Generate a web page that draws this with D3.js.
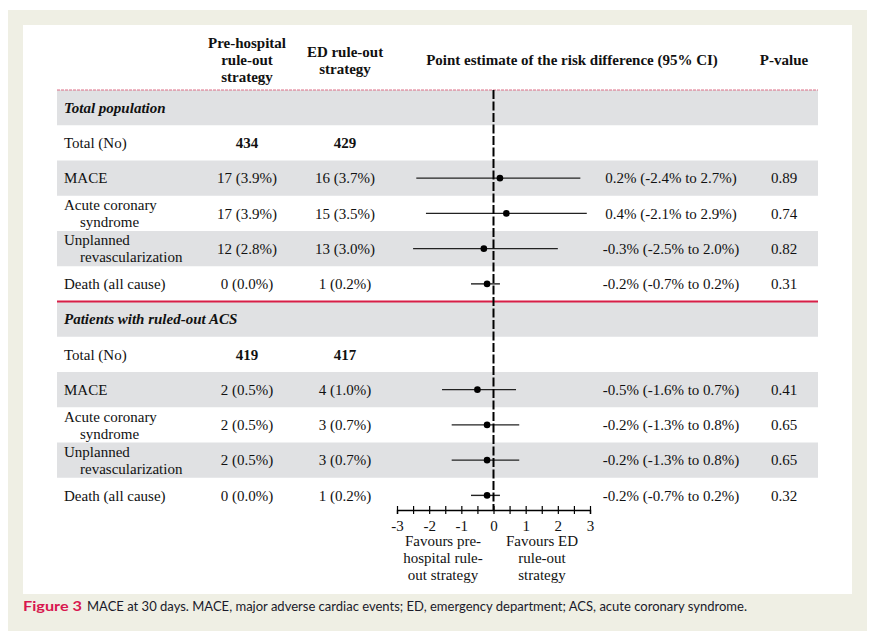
<html>
<head>
<meta charset="utf-8" />
<title>MACE at 30 days</title>
<script src="https://cdn.jsdelivr.net/npm/d3@7/dist/d3.min.js"></script>
<style>
  body { margin: 0; background: #fff; }
  svg { display: block; }
  .serif { font-family: "Liberation Serif", "Times New Roman", serif; font-size: 15px; fill: #111; }
  .hdr { font-weight: bold; }
  .sec { font-weight: bold; font-style: italic; }
</style>
</head>
<body>
<div id="viz"></div>
<script>
// ---- data ----
var sections = ["Total population", "Patients with ruled-out ACS"];
var totalPre = [434, 419];
var totalEd = [429, 417];
var outcomes = [["MACE"], ["Acute coronary", "syndrome"], ["Unplanned", "revascularization"], ["Death (all cause)"]];
var preEvents = [[17, 17, 12, 0], [2, 2, 2, 0]];
var prePct = [[3.9, 3.9, 2.8, 0.0], [0.5, 0.5, 0.5, 0.0]];
var edEvents = [[16, 15, 13, 1], [4, 3, 3, 1]];
var edPct = [[3.7, 3.5, 3.0, 0.2], [1.0, 0.7, 0.7, 0.2]];
var estimate = [[0.2, 0.4, -0.3, -0.2], [-0.5, -0.2, -0.2, -0.2]];
var ciLow = [[-2.4, -2.1, -2.5, -0.7], [-1.6, -1.3, -1.3, -0.7]];
var ciHigh = [[2.7, 2.9, 2.0, 0.2], [0.7, 0.8, 0.8, 0.2]];
var pValues = [["0.89", "0.74", "0.82", "0.31"], ["0.41", "0.65", "0.65", "0.32"]];
var axisTicks = [-3, -2.5, -2, -1.5, -1, -0.5, 0, 0.5, 1, 1.5, 2, 2.5, 3];

// build the table rows from the arrays
var rows = [];
sections.forEach(function(s, k) {
    rows.push({ id: "s" + k, type: "section", label: [s] });
    rows.push({ id: "t" + k, type: "total", label: ["Total (No)"], pre: totalPre[k], ed: totalEd[k] });
    outcomes.forEach(function(o, j) {
        rows.push({
            id: "o" + k + j, type: "outcome", label: o,
            pre: preEvents[k][j] + " (" + prePct[k][j].toFixed(1) + "%)",
            ed: edEvents[k][j] + " (" + edPct[k][j].toFixed(1) + "%)",
            est: estimate[k][j], lo: ciLow[k][j], hi: ciHigh[k][j],
            p: pValues[k][j], shade: j % 2 == 0
        });
    });
});

var W = 871, H = 631;
var svg = d3.select("#viz").append("svg").attr("width", W).attr("height", H);

// frame
svg.append("rect").attr("x", 8).attr("y", 10).attr("width", 859).attr("height", H - 10).attr("fill", "#efefe4");
svg.append("rect").attr("x", 23).attr("y", 25).attr("width", 829).attr("height", 569).attr("fill", "#fff");

var tableL = 57, tableR = 818;
var colLabel = 64, colPre = 247, colEd = 345, colEst = 671, colP = 784;

var y = d3.scaleBand().domain(rows.map(function(d) { return d.id; })).range([90, 513]);
var x = d3.scaleLinear().domain([-3, 3]).range([397, 590]);

// shaded rows
svg.selectAll("rect.shade")
    .data(rows.filter(function(d) { return d.type == "section" || d.shade; }))
    .enter().append("rect")
    .classed("shade", true)
    .attr("x", tableL).attr("width", tableR - tableL)
    .attr("y", function(d) { return y(d.id); })
    .attr("height", y.bandwidth())
    .attr("fill", "#e0e1e3");

// header
var header = svg.append("g").attr("class", "serif hdr");
function hdrText(lines, cx, cy) {
    var t = header.append("text").attr("text-anchor", "middle");
    lines.forEach(function(l, i) {
        t.append("tspan").attr("x", cx).attr("y", cy + (i - (lines.length - 1) / 2) * 17).attr("dy", "0.35em").text(l);
    });
}
hdrText(["Pre-hospital", "rule-out", "strategy"], colPre, 60);
hdrText(["ED rule-out", "strategy"], colEd, 60);
hdrText(["Point estimate of the risk difference (95% CI)"], 572, 60);
hdrText(["P-value"], colP, 60);

// dotted red line under the header, solid red line between sections
svg.append("line").attr("x1", tableL).attr("x2", tableR).attr("y1", 90).attr("y2", 90)
    .attr("stroke", "#dc6f86").attr("stroke-width", 1).attr("stroke-dasharray", "3,1");
svg.append("line").attr("x1", tableL).attr("x2", tableR)
    .attr("y1", y("s1")).attr("y2", y("s1"))
    .attr("stroke", "#d81f47").attr("stroke-width", 2.2);

// row texts
var rowG = svg.selectAll("g.row").data(rows).enter().append("g")
    .attr("class", "row serif")
    .attr("transform", function(d) { return "translate(0," + (y(d.id) + y.bandwidth() / 2) + ")"; });

rowG.append("text")
    .classed("sec", function(d) { return d.type == "section"; })
    .each(function(d) {
        var t = d3.select(this);
        d.label.forEach(function(l, i) {
            t.append("tspan")
                .attr("x", i == 0 ? colLabel : colLabel + 16)
                .attr("y", (i - (d.label.length - 1) / 2) * 17)
                .attr("dy", "0.35em")
                .text(l);
        });
    });

rowG.filter(function(d) { return d.type != "section"; }).each(function(d) {
    var g = d3.select(this);
    var bold = d.type == "total" ? "bold" : "normal";
    g.append("text").attr("x", colPre).attr("dy", "0.35em").attr("text-anchor", "middle").style("font-weight", bold).text(d.pre);
    g.append("text").attr("x", colEd).attr("dy", "0.35em").attr("text-anchor", "middle").style("font-weight", bold).text(d.ed);
});

var outRows = rowG.filter(function(d) { return d.type == "outcome"; });
outRows.append("text").attr("x", colEst).attr("dy", "0.35em").attr("text-anchor", "middle")
    .text(function(d) { return d.est.toFixed(1) + "% (" + d.lo.toFixed(1) + "% to " + d.hi.toFixed(1) + "%)"; });
outRows.append("text").attr("x", colP).attr("dy", "0.35em").attr("text-anchor", "middle")
    .text(function(d) { return d.p; });

// zero line
var axisY = 510;
svg.append("line").attr("x1", x(0)).attr("x2", x(0)).attr("y1", 90).attr("y2", axisY)
    .attr("stroke", "#000").attr("stroke-width", 2).attr("stroke-dasharray", "9,2.5");

// confidence intervals and point estimates
outRows.append("line")
    .attr("x1", function(d) { return x(d.lo); })
    .attr("x2", function(d) { return x(d.hi); })
    .attr("stroke", "#222").attr("stroke-width", 1.4);
outRows.append("circle")
    .attr("cx", function(d) { return x(d.est); })
    .attr("r", 3.3).attr("fill", "#000");

// axis
var axis = d3.axisBottom(x).tickValues(axisTicks).tickSizeOuter(0).tickSize(4)
    .tickFormat(function(d) { return Number.isInteger(d) ? String(d) : ""; });
var ax = svg.append("g").attr("transform", "translate(0," + axisY + ")").call(axis);
ax.select(".domain").attr("stroke", "#000").attr("stroke-width", 1.4);
ax.selectAll(".tick line").attr("y1", -4).attr("y2", 4).attr("stroke", "#000").attr("stroke-width", 1.2);
ax.selectAll(".tick text").attr("y", 10).attr("dy", "0.71em")
    .attr("font-family", "Liberation Serif, serif").attr("font-size", 15).attr("fill", "#111");

// favours labels
var fav = svg.append("g").attr("class", "serif");
function favText(lines, cx) {
    var t = fav.append("text").attr("text-anchor", "middle");
    lines.forEach(function(l, i) {
        t.append("tspan").attr("x", cx).attr("y", 541 + i * 17).attr("dy", "0.35em").text(l);
    });
}
favText(["Favours pre-", "hospital rule-", "out strategy"], 443);
favText(["Favours ED", "rule-out", "strategy"], 542);

// caption
svg.append("text").attr("x", 23).attr("y", 611)
    .attr("font-family", "Lato, sans-serif").attr("font-weight", "bold").attr("font-size", 13.5)
    .attr("fill", "#d8174f").attr("textLength", 59).attr("lengthAdjust", "spacingAndGlyphs")
    .text("Figure 3");
svg.append("text").attr("x", 87).attr("y", 611)
    .attr("font-family", "Lato, sans-serif").attr("font-size", 13.5).attr("fill", "#1a1a2a")
    .attr("textLength", 660).attr("lengthAdjust", "spacingAndGlyphs")
    .text("MACE at 30 days. MACE, major adverse cardiac events; ED, emergency department; ACS, acute coronary syndrome.");
</script>
</body>
</html>
